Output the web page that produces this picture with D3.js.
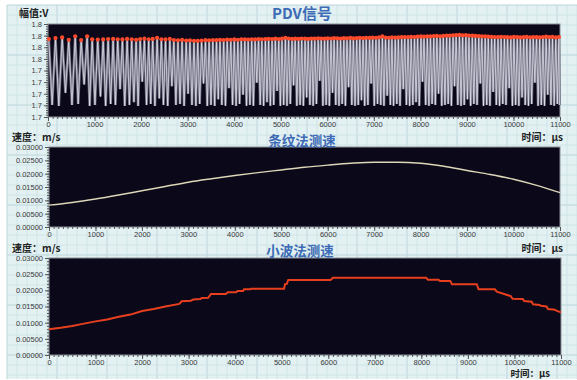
<!DOCTYPE html>
<html>
<head>
<meta charset="utf-8">
<script src="https://d3js.org/d3.v7.min.js"></script>
<style>
  body { margin: 0; padding: 0; background: #fff; }
  svg { display: block; }
  .tick-label { font-family: "Liberation Sans", Arial, sans-serif; font-size: 7.5px; fill: #3a3a3a; }
  .unit { font-family: "Noto Sans CJK SC", sans-serif; font-size: 10px; font-weight: bold; fill: #222; }
  .title { font-family: "Noto Sans CJK SC", sans-serif; font-size: 13.5px; font-weight: bold; fill: #3d6bb5; text-anchor: middle; }
</style>
</head>
<body>
<svg id="chart" width="577" height="380"></svg>
<script>
// ---- data ----
// PDV signal: fringe peaks (time in µs), peak amplitude and the following trough (V)
const pdvTime = [
  17, 161, 304, 446, 584, 712, 841, 949, 1069, 1185,
  1292, 1399, 1498, 1599, 1700, 1799, 1893, 1979, 2071, 2164,
  2250, 2344, 2436, 2525, 2618, 2705, 2792, 2880, 2968, 3050,
  3137, 3218, 3300, 3383, 3461, 3542, 3620, 3696, 3775, 3850,
  3928, 4002, 4079, 4152, 4229, 4301, 4377, 4449, 4524, 4595,
  4670, 4740, 4814, 4884, 4958, 5027, 5100, 5169, 5242, 5311,
  5383, 5451, 5523, 5591, 5663, 5731, 5803, 5871, 5942, 6009,
  6080, 6147, 6218, 6285, 6356, 6423, 6494, 6561, 6632, 6699,
  6770, 6837, 6908, 6975, 7046, 7113, 7184, 7251, 7322, 7389,
  7460, 7527, 7598, 7665, 7736, 7803, 7874, 7941, 8012, 8079,
  8150, 8217, 8288, 8355, 8426, 8493, 8564, 8631, 8702, 8769,
  8840, 8907, 8978, 9045, 9116, 9183, 9254, 9321, 9392, 9459,
  9530, 9597, 9668, 9735, 9806, 9873, 9944, 10011, 10082, 10149,
  10220, 10287, 10358, 10425, 10496, 10563, 10634, 10701, 10772, 10839,
  10910, 10977
];
const pdvPeak = [
  1.7838, 1.7849, 1.7856, 1.7830, 1.7867, 1.7827, 1.7867, 1.7835, 1.7832, 1.7834,
  1.7838, 1.7840, 1.7836, 1.7834, 1.7840, 1.7836, 1.7830, 1.7838, 1.7842, 1.7836,
  1.7840, 1.7852, 1.7836, 1.7834, 1.7840, 1.7828, 1.7824, 1.7830, 1.7822, 1.7825,
  1.7820, 1.7818, 1.7822, 1.7826, 1.7824, 1.7828, 1.7826, 1.7830, 1.7828, 1.7832,
  1.7830, 1.7834, 1.7830, 1.7836, 1.7834, 1.7832, 1.7836, 1.7834, 1.7838, 1.7836,
  1.7838, 1.7840, 1.7838, 1.7842, 1.7838, 1.7842, 1.7852, 1.7844, 1.7840, 1.7842,
  1.7840, 1.7844, 1.7842, 1.7840, 1.7844, 1.7842, 1.7846, 1.7844, 1.7842, 1.7846,
  1.7844, 1.7848, 1.7846, 1.7844, 1.7848, 1.7846, 1.7850, 1.7846, 1.7848, 1.7852,
  1.7848, 1.7852, 1.7850, 1.7854, 1.7852, 1.7856, 1.7866, 1.7854, 1.7852, 1.7856,
  1.7854, 1.7856, 1.7858, 1.7860, 1.7858, 1.7862, 1.7860, 1.7864, 1.7866, 1.7864,
  1.7868, 1.7866, 1.7870, 1.7872, 1.7868, 1.7872, 1.7876, 1.7874, 1.7878, 1.7880,
  1.7884, 1.7878, 1.7880, 1.7876, 1.7874, 1.7872, 1.7870, 1.7868, 1.7866, 1.7864,
  1.7862, 1.7860, 1.7858, 1.7862, 1.7860, 1.7858, 1.7856, 1.7862, 1.7858, 1.7856,
  1.7858, 1.7862, 1.7856, 1.7860, 1.7858, 1.7856, 1.7860, 1.7864, 1.7858, 1.7862,
  1.7856, 1.7860
];
const pdvTrough = [
  1.713, 1.712, 1.726, 1.713, 1.714, 1.735, 1.712, 1.713, 1.722, 1.712,
  1.714, 1.713, 1.730, 1.712, 1.713, 1.716, 1.712, 1.738, 1.713, 1.714,
  1.712, 1.720, 1.713, 1.712, 1.733, 1.713, 1.714, 1.712, 1.725, 1.713,
  1.712, 1.714, 1.736, 1.712, 1.713, 1.712, 1.719, 1.713, 1.712, 1.731,
  1.713, 1.712, 1.714, 1.724, 1.712, 1.713, 1.712, 1.737, 1.713, 1.712,
  1.716, 1.712, 1.713, 1.728, 1.712, 1.713, 1.712, 1.714, 1.734, 1.712,
  1.713, 1.712, 1.721, 1.713, 1.712, 1.714, 1.739, 1.712, 1.713, 1.712,
  1.726, 1.713, 1.712, 1.714, 1.712, 1.732, 1.713, 1.712, 1.713, 1.718,
  1.712, 1.713, 1.736, 1.712, 1.714, 1.713, 1.712, 1.723, 1.713, 1.712,
  1.714, 1.712, 1.730, 1.713, 1.712, 1.713, 1.716, 1.712, 1.738, 1.713,
  1.712, 1.714, 1.713, 1.725, 1.712, 1.713, 1.714, 1.712, 1.733, 1.713,
  1.712, 1.713, 1.719, 1.712, 1.714, 1.713, 1.736, 1.712, 1.713, 1.712,
  1.727, 1.713, 1.712, 1.714, 1.713, 1.731, 1.712, 1.713, 1.712, 1.721,
  1.713, 1.712, 1.714, 1.737, 1.712, 1.713, 1.712, 1.724, 1.713, 1.712,
  1.714, 1.713
];
const pdvTickValues = [1.8, 1.7875, 1.775, 1.7625, 1.75, 1.7375, 1.725, 1.7125, 1.7];
const pdvTickLabels = ['1.8', '1.8', '1.8', '1.8', '1.7', '1.7', '1.7', '1.7', '1.7'];

// fringe-count velocity (m/s)
const fringeTime = [0, 500, 1000, 1500, 2000, 2500, 3000, 3500, 4000, 4500, 5000, 5500,
  6000, 6500, 7000, 7500, 8000, 8500, 9000, 9500, 10000, 10500, 11000];
const fringeVel = [0.0082, 0.0092, 0.0105, 0.0120, 0.0136, 0.0152, 0.0168, 0.0181, 0.0193,
  0.0204, 0.0214, 0.0224, 0.0232, 0.0239, 0.0243, 0.0243, 0.0239, 0.0228, 0.0212,
  0.0197, 0.0179, 0.0156, 0.0129];

// wavelet velocity (m/s), stepped
const waveTime = [0, 250, 500, 750, 1000, 1250, 1500, 1750, 2000, 2250, 2500, 2800, 2850,
  3050, 3100, 3250, 3280, 3420, 3480, 3800, 3840, 4020, 4050, 4170, 4190, 4320, 4340,
  5050, 5070, 5110, 5140, 6050, 6100, 8100, 8140, 8370, 8400, 8620, 8660, 9190, 9230,
  9580, 9620, 9920, 9960, 10180, 10210, 10370, 10400, 10540, 10570, 10690, 10720,
  10870, 10900, 11000];
const waveVel = [0.0080, 0.0084, 0.0090, 0.0097, 0.0104, 0.0110, 0.0118, 0.0125, 0.0136,
  0.0142, 0.0150, 0.0158, 0.0166, 0.0168, 0.0172, 0.0173, 0.0176, 0.0177, 0.0189, 0.0189,
  0.0194, 0.0194, 0.0198, 0.0198, 0.0203, 0.0203, 0.0205, 0.0205, 0.0219, 0.0220, 0.0232,
  0.0232, 0.0239, 0.0239, 0.0233, 0.0233, 0.0229, 0.0229, 0.0219, 0.0219, 0.0203, 0.0203,
  0.0196, 0.0182, 0.0174, 0.0173, 0.0167, 0.0165, 0.0157, 0.0155, 0.0152, 0.0150, 0.0142,
  0.0140, 0.0137, 0.0132];

const timeTicks = [0, 1000, 2000, 3000, 4000, 5000, 6000, 7000, 8000, 9000, 10000, 11000];
const velTicks = [0, 0.005, 0.01, 0.015, 0.02, 0.025, 0.03];

// ---- drawing ----
const svg = d3.select('#chart');
const W = 577, H = 380;

// graph-paper background
const bg = svg.append('g');
bg.append('rect').attr('x', 7).attr('y', 5).attr('width', W - 7).attr('height', H - 6)
  .attr('fill', '#e3f1f3');
for (let x = 7; x <= W; x += 10) {
  bg.append('line').attr('x1', x).attr('x2', x).attr('y1', 5).attr('y2', H - 1)
    .attr('stroke', (x - 7) % 50 === 0 ? '#bcd6da' : '#cfe4e7').attr('stroke-width', 1);
}
for (let y = 5; y <= H; y += 10) {
  bg.append('line').attr('x1', 7).attr('x2', W).attr('y1', y).attr('y2', y)
    .attr('stroke', (y - 5) % 50 === 0 ? '#bcd6da' : '#cfe4e7').attr('stroke-width', 1);
}

function panel(box, yDomain, yTicks, yLabels, yMinorStep, opts) {
  const x = d3.scaleLinear().domain([0, 11000]).range([box.left, box.right]);
  const y = d3.scaleLinear().domain(yDomain).range([box.bottom, box.top]);
  const g = svg.append('g');

  g.append('rect')
    .attr('x', box.left).attr('y', box.top)
    .attr('width', box.right - box.left).attr('height', box.bottom - box.top)
    .attr('fill', '#0a0819').attr('stroke', '#8a8f96').attr('stroke-width', 1);

  // minor ticks first (no labels)
  g.append('g').attr('transform', `translate(0,${box.bottom})`)
    .call(d3.axisBottom(x).tickValues(d3.range(0, 11001, 100)).tickSize(2))
    .selectAll('text').remove();
  g.append('g').attr('transform', `translate(${box.left},0)`)
    .call(d3.axisLeft(y).tickValues(d3.range(yDomain[0], yDomain[1] + 1e-9, yMinorStep)).tickSize(2))
    .selectAll('text').remove();

  // major ticks with labels
  g.append('g').attr('transform', `translate(0,${box.bottom})`)
    .call(d3.axisBottom(x).tickValues(timeTicks).tickSize(4).tickPadding(1).tickFormat(d3.format('d')));
  g.append('g').attr('transform', `translate(${box.left},0)`)
    .call(d3.axisLeft(y).tickValues(yTicks).tickSize(4).tickPadding(2).tickFormat((d, i) => yLabels[i]));

  g.selectAll('.domain').remove();
  g.selectAll('.tick line').attr('stroke', '#555');
  g.selectAll('.tick text').attr('class', 'tick-label');

  svg.append('text').attr('class', 'title').attr('x', opts.titleX).attr('y', opts.titleY)
    .style('font-size', opts.titleSize).text(opts.title);
  svg.append('text').attr('class', 'unit').attr('x', opts.yUnitX).attr('y', opts.yUnitY).text(opts.yUnit);
  svg.append('text').attr('class', 'unit').attr('x', opts.xUnitX).attr('y', opts.xUnitY)
    .style('font-size', opts.xUnitSize || null)
    .attr('text-anchor', 'end').text('时间：μs');

  return { x, y, g };
}

// panel 1: PDV signal
const p1 = panel({ left: 48, right: 560, top: 24, bottom: 117 }, [1.7, 1.8],
  pdvTickValues, pdvTickLabels, 0.0025,
  { title: 'PDV信号', titleSize: '15px', titleX: 302, titleY: 19, yUnit: '幅值:V', yUnitX: 19, yUnitY: 16.5,
    xUnitX: 563, xUnitY: 141 });

const sig = [];
pdvTime.forEach((t, i) => {
  sig.push([t, pdvPeak[i]]);
  const next = i < pdvTime.length - 1 ? pdvTime[i + 1] : 11000;
  sig.push([(t + next) / 2, pdvTrough[i]]);
});
const sigLine = d3.line().x(d => p1.x(d[0])).y(d => p1.y(d[1]));
p1.g.append('path').datum(sig).attr('d', sigLine)
  .attr('fill', 'none').attr('stroke', '#6d6d82').attr('stroke-width', 2.6);
p1.g.append('path').datum(sig).attr('d', sigLine)
  .attr('fill', 'none').attr('stroke', '#ececf4').attr('stroke-width', 0.7);
p1.g.append('g').selectAll('circle').data(pdvTime).join('circle')
  .attr('cx', d => p1.x(d)).attr('cy', (d, i) => p1.y(pdvPeak[i]))
  .attr('r', 2.1).attr('fill', '#ff4b2b');

// panel 2: fringe velocity
const p2 = panel({ left: 49, right: 560, top: 147, bottom: 227 }, [0, 0.03],
  velTicks, velTicks.map(d3.format('.5f')), 0.001,
  { title: '条纹法测速', titleSize: '13.5px', titleX: 302, titleY: 145.5, yUnit: '速度：m/s', yUnitX: 12, yUnitY: 141,
    xUnitX: 563, xUnitY: 251.5 });
p2.g.append('path').datum(fringeTime.map((t, i) => [t, fringeVel[i]]))
  .attr('d', d3.line().curve(d3.curveMonotoneX).x(d => p2.x(d[0])).y(d => p2.y(d[1])))
  .attr('fill', 'none').attr('stroke', '#ddd6b8').attr('stroke-width', 1.4);

// panel 3: wavelet velocity
const p3 = panel({ left: 49, right: 561, top: 258, bottom: 355 }, [0, 0.03],
  velTicks, velTicks.map(d3.format('.5f')), 0.001,
  { title: '小波法测速', titleSize: '13.5px', titleX: 300, titleY: 255.5, yUnit: '速度：m/s', yUnitX: 12, yUnitY: 251.5,
    xUnitX: 550, xUnitY: 377, xUnitSize: '9.5px' });
p3.g.append('path').datum(waveTime.map((t, i) => [t, waveVel[i]]))
  .attr('d', d3.line().x(d => p3.x(d[0])).y(d => p3.y(d[1])))
  .attr('fill', 'none').attr('stroke', '#e8401e').attr('stroke-width', 2);
</script>
</body>
</html>
